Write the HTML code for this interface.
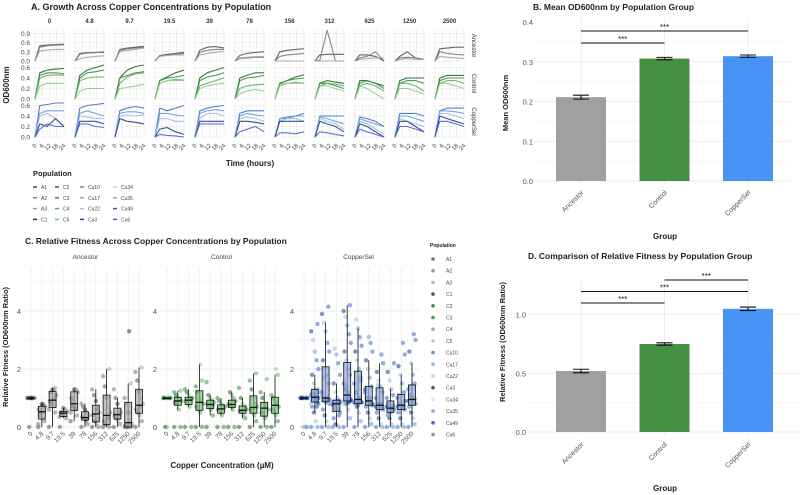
<!DOCTYPE html>
<html><head><meta charset="utf-8">
<style>
html,body{margin:0;padding:0;background:#fff;}
svg{display:block;font-family:"Liberation Sans",sans-serif;}
</style></head>
<body>
<svg id="chart" width="800" height="495" viewBox="0 0 800 495" xmlns="http://www.w3.org/2000/svg"></svg>
<script>
// ===== Panel A data =====
const concA = ["0","4.8","9.7","19.5","39","78","156","312","625","1250","2500"];
const groupsA = ["Ancestor","Control","CopperSel"];
const timesA = [0,4,10,17,24];
const timeTicks = [0,6,12,18,24];
const ancestorCurves = [
 [[0,.5,.52,.54,.55],[0,.45,.5,.52,.53],[0,.33,.36,.38,.38]],
 [[0,.25,.27,.28,.28],[0,.22,.26,.27,.3],[0,.08,.12,.15,.17]],
 [[0,.38,.42,.45,.48],[0,.35,.4,.42,.45],[0,.3,.35,.38,.42]],
 [[0,.18,.22,.25,.28],[0,.17,.2,.22,.25],[0,.15,.18,.2,.2]],
 [[0,.35,.45,.47,.42],[0,.28,.35,.38,.38],[0,.2,.25,.28,.32]],
 [[0,.18,.25,.28,.3],[0,.08,.1,.12,.12],[0,.1,.12,.14,.15]],
 [[0,.3,.35,.38,.4],[0,.15,.2,.22,.25],[0,0,0,0,0]],
 [[0,.2,.22,.22,.22],[0,.02,1.0,0,0],[0,0,0,0,0]],
 [[0,.2,.2,.15,0],[0,.1,.15,.3,0],[0,.05,.08,.1,.1]],
 [[0,.15,.3,.1,.05],[0,.1,.12,.1,.05],[0,.05,.08,.05,.05]],
 [[0,.4,.42,.45,.45],[0,.3,.25,.22,.2],[0,.15,.12,.1,.08]]
];
const controlCurves = [
 [[0,.5,.55,.57,.58],[0,.45,.5,.5,.48],[0,.4,.45,.46,.45],[0,.25,.3,.3,.3]],
 [[0,.45,.55,.6,.68],[0,.4,.5,.52,.55],[0,.35,.4,.42,.42],[0,.15,.2,.2,.2]],
 [[0,.4,.55,.62,.7],[0,.4,.45,.5,.52],[0,.3,.42,.48,.5],[0,.2,.22,.25,.28]],
 [[0,.35,.42,.5,.55],[0,.35,.4,.42,.45],[0,.3,.35,.37,.36],[0,.3,.35,.35,.35]],
 [[0,.4,.5,.55,.6],[0,.35,.42,.45,.5],[0,.25,.3,.35,.4],[0,.2,.25,.28,.3]],
 [[0,.4,.45,.5,.5],[0,.35,.4,.42,.45],[0,.2,.25,.27,.28],[0,.1,.15,.18,.15]],
 [[0,.3,.35,.42,.46],[0,.3,.35,.38,.4],[0,.28,.3,.32,.3],[0,.25,.3,.3,.3]],
 [[0,.3,.35,.32,.3],[0,.3,.3,.25,.2],[0,.25,.3,.28,.25],[0,.25,.25,.2,.15]],
 [[0,.35,.35,.3,.25],[0,.3,.35,.3,.2],[0,.25,.3,.25,.15],[0,.25,.2,.1,0]],
 [[0,.35,.4,.4,.4],[0,.3,.35,.35,.3],[0,.3,.3,.25,.15],[0,.2,.2,.15,.1]],
 [[0,.4,.45,.45,.45],[0,.35,.4,.4,.4],[0,.3,.35,.35,.3],[0,.3,.3,.25,.2]]
];
const copperCurves = [
 [[0,.6,.62,.65,.67],[0,.45,.5,.5,.5],[0,.4,.45,.35,.2],[0,.25,.2,.35,.2],[0,.15,.25,.2,.2]],
 [[0,.55,.6,.62,.64],[0,.45,.5,.45,.4],[0,.4,.38,.35,.35],[0,.3,.3,.3,.25],[0,.25,.25,.2,.18]],
 [[0,.5,.55,.58,.55],[0,.45,.48,.48,.45],[0,.4,.42,.4,.42],[0,.35,.3,.28,.25]],
 [[0,.55,.5,.55,.6],[0,.45,.45,.42,.4],[0,.35,.35,.3,.3],[0,.15,.18,.1,.05],[0,.05,.03,.02,0]],
 [[0,.5,.55,.58,.6],[0,.45,.5,.52,.5],[0,.35,.45,.45,.4],[0,.3,.3,.3,.3],[0,.25,.25,.25,.25]],
 [[0,.45,.5,.5,.5],[0,.4,.45,.42,.4],[0,.35,.38,.35,.3],[0,.3,.3,.28,.25],[0,.1,.15,.2,.1]],
 [[0,.35,.38,.4,.45],[0,.35,.35,.4,.4],[0,.3,.35,.35,.3],[0,.3,.3,.3,.3],[0,.08,.08,.06,.1]],
 [[0,.4,.4,.4,.4],[0,.38,.35,.3,.25],[0,.35,.3,.25,.15],[0,.3,.25,.2,.1],[0,.1,.08,.05,.02]],
 [[0,.38,.35,.3,.2],[0,.35,.3,.25,.2],[0,.3,.25,.15,.05],[0,.25,.2,.1,0],[0,.15,.1,.05,0]],
 [[0,.45,.45,.45,.4],[0,.4,.4,.35,.3],[0,.35,.3,.25,.2],[0,.3,.3,.2,.1],[0,.2,.2,.15,.1]],
 [[0,.5,.55,.55,.55],[0,.5,.5,.48,.45],[0,.45,.45,.4,.35],[0,.4,.35,.3,.25],[0,.3,.3,.25,.2]]
];
const rowTicksA = [["0.0","0.3","0.6","0.9"],["0.0","0.2","0.4","0.6"],["0.0","0.2","0.4","0.6"]];
const rowTickVals = [[0,.3,.6,.9],[0,.2,.4,.6],[0,.2,.4,.6]];
const legendPops = [["A1","A2","A3","C1"],["C2","C3","C4","C5"],["Cu10","Cu17","Cu22","Cu3"],["Cu34","Cu35","Cu49","Cu6"]];

// ===== Panel B data =====
const groupsB = ["Ancestor","Control","CopperSel"];
const meanOD = [0.211,0.308,0.314];
const seOD = [0.005,0.003,0.003];
const ticksB = [0,0.1,0.2,0.3,0.4];

// ===== Panel C data =====
const concC = ["0","4.8","9.7","19.5","39","78","156","312","625","1250","2500"];
const fitAncestor = [
 [1,1,1,1,1,1,1,1,0,1,1,1],
 [0,.2,.3,.5,.6,.7,.8,.8,.4,.1,.55,.75],
 [0,.5,.7,.8,.9,1.1,1.3,1.3,1.2,.6,1.35,.95],
 [0,.3,.4,.45,.5,.55,.6,.65,.5,.35],
 [.2,.4,.6,.7,1.0,1.2,1.3,1.3,.9,.5,1.25,.65],
 [0,.1,.2,.3,.35,.4,.5,.6,.7,.8,.3,.25],
 [0,0,.1,.2,.4,.5,.7,.9,1.1,1.3,.3,.6],
 [0,0,.05,.1,.2,.5,.7,1.0,1.4,1.75,2.0,.3],
 [0,.1,.2,.3,.4,.5,.6,.8,1.0,1.3,.35,.45],
 [0,0,0,0,.05,.1,.2,.5,.8,1.0,1.5,3.3],
 [0,.2,.4,.5,.6,.8,1.0,1.2,1.6,1.9,2.05,.7]
];
const fitControl = [
 [1,1,1,1,1,1,1,0,0,1,1,1],
 [0,0,.6,.8,.85,.9,.95,1.0,1.1,1.2,1.25,.9],
 [0,0,.7,.8,.9,1.0,1.0,1.1,1.2,1.3,.95,.85],
 [0,0,.5,.6,.7,.8,.9,1.0,1.2,1.4,1.6,2.15],
 [0,.4,.6,.7,.8,.85,.9,1.0,1.1,1.55,.75,.65],
 [0,0,.4,.5,.6,.7,.75,.8,.9,1.0,.65,.55],
 [0,0,.6,.7,.8,.9,1.0,1.1,1.2,.75,.85,.7],
 [0,.3,.4,.5,.55,.6,.7,.8,1.0,1.35,.65,.55],
 [0,.2,.4,.5,.6,.7,.8,1.0,1.3,1.6,1.85,.65],
 [0,0,.3,.4,.5,.6,.7,.8,1.0,1.2,1.65,.7],
 [0,.2,.4,.5,.6,.7,.8,.9,1.0,1.1,1.8,2.0]
];
const fitCopper = [
 [1,1,1,1,1,1,1,1,1,1,0,0,0,1,1,1],
 [0,0,.2,.5,.7,.8,.9,1.0,1.0,1.1,1.2,1.3,1.5,1.8,2.0,2.3,2.6,3.0,3.3,3.55,1.05,.95,.9,1.0,1.0,1.1,1.2,.8,.85,.95,1.05,1.15,1.3,.7],
 [0,0,.2,.4,.6,.8,.9,.9,1.0,1.2,1.5,1.8,2.0,2.3,2.6,2.9,3.3,3.6,3.9,4.15,.95,1.7,.9,.95,1.0,.85,.9,1.1],
 [0,0,.05,.1,.3,.5,.6,.7,.8,.85,.9,1.0,1.2,1.5,1.8,2.2,2.5,2.7,.75,.4,.8,.85,.9,.85,.9,.6,.7,.55],
 [0,.3,.6,.8,.9,.9,1.0,1.1,1.3,1.5,1.8,2.0,2.3,2.6,2.9,3.2,3.5,3.8,4.0,4.2,.85,1.4,.9,.95,.85,1.0,1.1,.8,.9,1.2],
 [0,.2,.5,.7,.8,.85,.9,1.0,1.2,1.5,1.7,2.0,2.3,2.6,2.8,3.1,3.4,3.7,.85,1.6,.85,.9,.8,.85,1.0,.75],
 [0,.1,.3,.5,.7,.8,.85,.9,1.0,1.2,1.4,1.7,2.0,2.3,2.6,2.9,3.1,.8,1.3,.8,.85,.9,.7,.75,1.0],
 [0,0,.1,.3,.5,.6,.7,.75,.8,1.0,1.2,1.4,1.6,1.9,2.2,2.5,.7,1.45,.7,.75,.8,.6],
 [0,0,.1,.3,.4,.6,.65,.7,.8,1.0,1.1,1.3,1.6,1.9,2.2,.65,.5,.65,.7,.75,.6,.5,.8],
 [0,0,.1,.3,.5,.6,.7,.75,.8,1.0,1.2,1.5,1.8,2.1,2.5,2.9,.7,1.1,.7,.75,.65,.8,.6,.9],
 [0,.1,.3,.5,.7,.8,.9,1.0,1.1,1.3,1.5,1.8,2.2,2.6,3.0,3.2,.95,1.4,.9,.95,1.0,.8,.7]
];
const ticksC = [0,2,4];
const legendC = ["A1","A2","A3","C1","C2","C3","C4","C5","Cu10","Cu17","Cu22","Cu3","Cu34","Cu35","Cu49","Cu6"];

// ===== Panel D data =====
const groupsD = ["Ancestor","Control","CopperSel"];
const meanFit = [0.52,0.75,1.05];
const seFit = [0.015,0.01,0.015];
const ticksD = [0,0.5,1.0];

// ===== drawing =====
const NS = "http://www.w3.org/2000/svg";
const svg = document.getElementById("chart");
function mk(tag, attrs, parent){
  const e = document.createElementNS(NS, tag);
  for (const k in attrs) e.setAttribute(k, attrs[k]);
  (parent || svg).appendChild(e);
  return e;
}
function txt(s, attrs, parent){ const e = mk("text", attrs, parent); e.textContent = s; return e; }

const greyPal = ["#555555","#7a7a7a","#a5a5a5","#333333"];
const greenPal = ["#1e6b2a","#3d8f46","#5fb063","#8fcf8a"];
const bluePal = ["#3a74c4","#6a9ad6","#9dbde6","#1e3f8a","#4a63c8"];
const palsA = [greyPal, greenPal, bluePal];

// ---- Panel A ----
const gA = mk("g", {});


let t = txt("A. Growth Across Copper Concentrations by Population", {x:31,y:10,"font-size":9,"font-weight":"bold",fill:"#222"}, gA);


const rowTop = [29,67,105], rowH = 33, rowZero=[61,99,137], rowK=[30.6,52.5,52.5];
const curvesAll = [ancestorCurves, controlCurves, copperCurves];
function axX(col, tv){ return 33 + col*40 + 2 + tv/24*29; }
for (let c=0;c<concA.length;c++){
  const ct = txt(concA[c], {x:33+c*40+16.5,y:23,"font-size":6,"font-weight":"bold","text-anchor":"middle",fill:"#333"}, gA);
  
  
}
for (let r=0;r<3;r++){
  const yA = v => rowZero[r] - v*rowK[r];
  for (let c=0;c<concA.length;c++){
    const px = 33+c*40;
    const pg = mk("g", {}, gA);
    
    
    for (let i=0;i<timeTicks.length;i++){
      const gx = axX(c,timeTicks[i]);
      mk("line",{x1:gx,x2:gx,y1:rowTop[r],y2:rowTop[r]+rowH,stroke:"#e4e4e4","stroke-width":0.6},pg);
      if(i<4){const mx=axX(c,timeTicks[i]+3);mk("line",{x1:mx,x2:mx,y1:rowTop[r],y2:rowTop[r]+rowH,stroke:"#f2f2f2","stroke-width":0.4},pg);}
    }
    for (let i=0;i<rowTickVals[r].length;i++){
      const gy = yA(rowTickVals[r][i]);
      mk("line",{x1:px,x2:px+33,y1:gy,y2:gy,stroke:"#e4e4e4","stroke-width":0.6},pg);
      const my = yA(rowTickVals[r][i]+(rowTickVals[r][1]/2));
      if (my>rowTop[r]) mk("line",{x1:px,x2:px+33,y1:my,y2:my,stroke:"#f2f2f2","stroke-width":0.4},pg);
    }
    const curves = curvesAll[r][c];
    for (let k=0;k<curves.length;k++){
      const pts = curves[k].map((v,i)=>axX(c,timesA[i]).toFixed(1)+","+Math.max(rowTop[r]-2,yA(v)).toFixed(1)).join(" ");
      const pl = mk("polyline",{points:pts,fill:"none",stroke:palsA[r][k%palsA[r].length],"stroke-width":1.1,"stroke-linejoin":"round",opacity:0.9},pg);
      
      
    }
    if (r===2){
      for (let i=0;i<timeTicks.length;i++){
        const gx = axX(c,timeTicks[i]);
        const xl = txt(String(timeTicks[i]),{x:gx+2,y:146,"font-size":6,"text-anchor":"end",fill:"#444",transform:`rotate(-45 ${gx+2} 146)`},gA);
        
        
      }
    }
  }
  for (let i=0;i<rowTicksA[r].length;i++){
    const yl = txt(rowTicksA[r][i],{x:30,y:yA(rowTickVals[r][i])+2.5,"font-size":6.5,"text-anchor":"end",fill:"#444"},gA);
    
    
  }
  const sx = 472, sy = rowTop[r]+rowH/2;
  const sl = txt(groupsA[r],{x:sx,y:sy,"font-size":6,"text-anchor":"middle",fill:"#333",transform:`rotate(90 ${sx} ${sy})`},gA);
  
  
}
t = txt("Time (hours)",{x:250,y:166,"font-size":8,"font-weight":"bold","text-anchor":"middle",fill:"#222"},gA);


t = txt("OD600nm",{x:9,y:85,"font-size":8,"font-weight":"bold","text-anchor":"middle",fill:"#222",transform:"rotate(-90 9 85)"},gA);


t = txt("Population",{x:33,y:176,"font-size":7.5,"font-weight":"bold",fill:"#222"},gA);


const legColX = [33,55,80,113];
const legColors = [["#444","#777","#999","#333"],["#2f6e38","#3f8a45","#5aa95b","#7cc37a"],["#5b8fc6","#7eaadc","#a9c7ea","#1e3f8a"],["#c5d7ef","#8aa6dc","#3f59c2","#4b6fb8"]];
for (let c=0;c<4;c++) for (let r=0;r<4;r++){
  const ly = 187 + r*10.8;
  const lg = mk("g",{},gA);
  
  
  mk("line",{x1:legColX[c],x2:legColX[c]+4,y1:ly,y2:ly,stroke:legColors[c][r],"stroke-width":1.5},lg);
  txt(legendPops[c][r],{x:legColX[c]+8,y:ly+2,"font-size":5,fill:"#444"},lg);
}

// ---- bar panels ----
function barPanel(name, title, titleX, titleY, groups, vals, ses, ticks, tickFmt, y0, kpx, xl, xr, yTop, yLabel, ylx, ylY, groupY, sigs){
  const g = mk("g",{});
  
  
  const yS = v => y0 - v*kpx;
  const tt = txt(title,{x:titleX,y:titleY,"font-size":8.5,"font-weight":"bold",fill:"#222"},g);
  
  
  const step = ticks[1]-ticks[0];
  for (let v=ticks[0]; yS(v+step/2)>=yTop-1; v+=step/2){
    const gy=yS(v);
    mk("line",{x1:xl,x2:xr,y1:gy,y2:gy,stroke:(Math.round(v/step*2)%2===0)?"#e6e6e6":"#f3f3f3","stroke-width":0.7},g);
  }
  for (let i=0;i<ticks.length;i++){
    const tl = txt(tickFmt(ticks[i]),{x:xl-2,y:yS(ticks[i])+3,"font-size":7.5,"text-anchor":"end",fill:"#555"},g);
    
    
  }
  const cx = [581,664.5,748];
  const cols = ["#8f8f8f","#3c8a38","#3f8cf5"];
  for (let i=0;i<groups.length;i++){
    mk("line",{x1:cx[i],x2:cx[i],y1:yTop-4,y2:y0+3,stroke:"#e6e6e6","stroke-width":0.7},g);
  }
  for (let i=0;i<groups.length;i++){
    const b = mk("rect",{x:cx[i]-25,y:yS(vals[i]),width:50,height:vals[i]*kpx,fill:cols[i],opacity:i===0?0.85:0.95},g);
    
    
    const e1=yS(vals[i]+ses[i]), e2=yS(vals[i]-ses[i]);
    const eb = mk("path",{d:`M${cx[i]-8},${e1}H${cx[i]+8}M${cx[i]},${e1}V${e2}M${cx[i]-8},${e2}H${cx[i]+8}`,stroke:"#111","stroke-width":1.1,fill:"none"},g);
    
    
    const lx=cx[i]+3, ly=groupY;
    const gl = txt(groups[i],{x:lx,y:ly,"font-size":7,"text-anchor":"end",fill:"#555",transform:`rotate(-45 ${lx} ${ly})`},g);
    
    
  }
  for (const s of sigs){
    const sl = mk("line",{x1:cx[s[0]],x2:cx[s[1]],y1:s[2],y2:s[2],stroke:"#111","stroke-width":1.1},g);
    
    
    const st = txt("***",{x:(cx[s[0]]+cx[s[1]])/2,y:s[2]-1,"font-size":8,"text-anchor":"middle",fill:"#222"},g);
    
    
  }
  const yt = txt(yLabel,{x:ylx,y:ylY,"font-size":7.5,"font-weight":"bold","text-anchor":"middle",fill:"#222",transform:`rotate(-90 ${ylx} ${ylY})`},g);
  
  
  return g;
}
barPanel("panel-b-mean-od","B. Mean OD600nm by Population Group",533,10,groupsB,meanOD,seOD,ticksB,v=>v.toFixed(1),181,397.5,535,790,22,"Mean OD600nm",508,103,193,[[0,1,43],[0,2,31]]);
t = txt("Group",{x:665,y:239,"font-size":8,"font-weight":"bold","text-anchor":"middle",fill:"#222"});


barPanel("panel-d-fitness","D. Comparison of Relative Fitness by Population Group",528,259,groupsD,meanFit,seFit,ticksD,v=>v.toFixed(1),432,117.3,528,800,284,"Relative Fitness (OD600nm Ratio)",505,342,445,[[0,1,303],[0,2,291.5],[1,2,280]]);
t = txt("Group",{x:665,y:491,"font-size":8,"font-weight":"bold","text-anchor":"middle",fill:"#222"});



// ---- Panel C ----
const gC = mk("g",{});


t = txt("C. Relative Fitness Across Copper Concentrations by Population",{x:25,y:244,"font-size":8.5,"font-weight":"bold",fill:"#222"},gC);


const facetC = [["Ancestor",25,fitAncestor,greyPal,"#aaaaaa"],["Control",161,fitControl,greenPal,"#7fbf7f"],["CopperSel",298,fitCopper,bluePal,"#8da6d8"]];
const y0C = 427, kC = 29, topC = 268;
const yC = v => y0C - v*kC;
function quant(a,q){const s=[...a].sort((x,y)=>x-y);const p=(s.length-1)*q;const lo=Math.floor(p),hi=Math.ceil(p);return s[lo]+(s[hi]-s[lo])*(p-lo);}
for (const [fname, fx, data, pal, boxFill] of facetC){
  const fg = mk("g",{},gC);
  
  
  const fw = 121;
  const lab = txt(fname,{x:fx+fw/2,y:259,"font-size":6.5,"text-anchor":"middle",fill:"#444"},fg);
  
  
  for (let v=0; yC(v)>=topC; v+=1){
    mk("line",{x1:fx,x2:fx+fw,y1:yC(v),y2:yC(v),stroke:v%2===0?"#e6e6e6":"#f3f3f3","stroke-width":0.7},fg);
  }
  const xC = i => fx + 6 + i*10.8;
  for (let i=0;i<concC.length;i++) mk("line",{x1:xC(i),x2:xC(i),y1:topC,y2:y0C+3,stroke:"#ececec","stroke-width":0.7},fg);
  for (let i=0;i<ticksC.length;i++){
    const tl = txt(String(ticksC[i]),{x:fx-4,y:yC(ticksC[i])+3,"font-size":7.5,"text-anchor":"end",fill:"#555"},fg);
    
    
  }
  for (let i=0;i<concC.length;i++){
    const vals = data[i];
    for (let j=0;j<vals.length;j++){
      const jx = xC(i) + (((j*7)%9)-4)*0.9;
      const p = mk("circle",{cx:jx,cy:yC(vals[j]),r:2.2,fill:pal[j%pal.length],opacity:0.55},fg);
      
      
    }
    const q1=quant(vals,.25), md=quant(vals,.5), q3=quant(vals,.75), iqr=q3-q1;
    const lo=Math.min(...vals.filter(v=>v>=q1-1.5*iqr)), hi=Math.max(...vals.filter(v=>v<=q3+1.5*iqr));
    const bx = mk("g",{},fg);
    
    
    mk("line",{x1:xC(i),x2:xC(i),y1:yC(hi),y2:yC(lo),stroke:"#111","stroke-width":0.8},bx);
    mk("rect",{x:xC(i)-3.5,y:yC(q3),width:7,height:Math.max(0.8,(q3-q1)*kC),fill:boxFill,"fill-opacity":0.7,stroke:"#111","stroke-width":0.8},bx);
    mk("line",{x1:xC(i)-3.5,x2:xC(i)+3.5,y1:yC(md),y2:yC(md),stroke:"#111","stroke-width":1.3},bx);
    const lx=xC(i)+2, ly=434;
    const xl = txt(concC[i],{x:lx,y:ly,"font-size":6.5,"text-anchor":"end",fill:"#555",transform:`rotate(-45 ${lx} ${ly})`},fg);
    
    
  }
}
t = txt("Copper Concentration (\u00b5M)",{x:222,y:468,"font-size":8,"font-weight":"bold","text-anchor":"middle",fill:"#222"},gC);


t = txt("Relative Fitness (OD600nm Ratio)",{x:8,y:347,"font-size":7.5,"font-weight":"bold","text-anchor":"middle",fill:"#222",transform:"rotate(-90 8 347)"},gC);


t = txt("Population",{x:430,y:247,"font-size":5,"font-weight":"bold",fill:"#222"},gC);


const legCCols = ["#777","#999","#bbb","#555","#3d8f46","#4f9a55","#8fbf8f","#aed6ae","#6f97c4","#93b4dc","#c0d2e8","#4a5a7a","#d6e2f5","#9aa9dc","#4a5ed0","#7d8fbf"];
for (let i=0;i<legendC.length;i++){
  const ly = 259 + i*11.7;
  const lg = mk("g",{},gC);
  
  
  mk("circle",{cx:433,cy:ly,r:1.8,fill:legCCols[i]},lg);
  txt(legendC[i],{x:446,y:ly+2,"font-size":5,fill:"#444"},lg);
}
</script>
</body></html>
